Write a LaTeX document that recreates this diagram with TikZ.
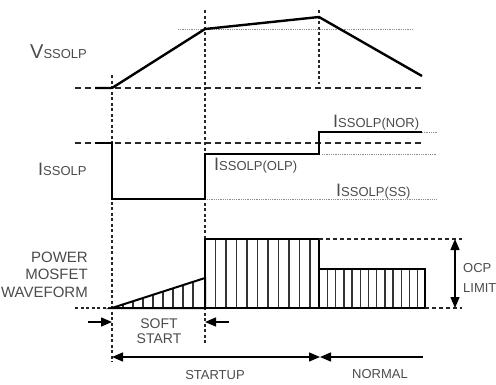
\documentclass[tikz,border=0pt]{standalone}
\usepackage{fontspec}
\setmainfont{Liberation Sans}
\usetikzlibrary{arrows.meta}
\definecolor{txt}{RGB}{75,75,75}
\newcommand{\BigLt}[1]{{\fontsize{20}{20}\selectfont #1}}
\newcommand{\SmLt}[1]{{\fontsize{13}{13}\selectfont #1}}
\begin{document}
\begin{tikzpicture}[x=1pt,y=-1pt,
  wave/.style={line width=2.4pt,black,line join=miter},
  vdash/.style={line width=1.2pt,black!85,dash pattern=on 3pt off 2.5pt},
  hdash/.style={line width=1.4pt,black!85,dash pattern=on 6pt off 4pt},
  fdot/.style={line width=0.8pt,black!45,dash pattern=on 1pt off 0.8pt},
  hatch/.style={line width=1.4pt,black!80},
  box/.style={line width=2pt,black,line join=miter},
  lbl/.style={inner sep=0pt,text=txt,font=\fontsize{14}{14}\selectfont},
  arr/.style={line width=1.4pt,black,-{Triangle[length=11pt,width=9pt]}},
  darr/.style={line width=1.4pt,black,{Triangle[length=11pt,width=9pt]}-{Triangle[length=11pt,width=9pt]}}]
\useasboundingbox (0,0) rectangle (496,384);
% time markers
\coordinate (t1a) at (112,75);  \coordinate (t1b) at (112,362);
\coordinate (t2a) at (205,10);  \coordinate (t2b) at (205,343);
\coordinate (t3a) at (319,10);  \coordinate (t3b) at (319,84);
\draw[vdash] (t1a) -- (t1b);
\draw[vdash] (t2a) -- (t2b);
\draw[vdash] (t3a) -- (t3b);
% ---- V panel ----
\coordinate (vl) at (75,88); \coordinate (vr) at (423,88);
\draw[hdash] (vl) -- (vr);
\coordinate (dl) at (178,29); \coordinate (dr) at (413,29);
\draw[fdot] (dl) -- (dr);
\coordinate (v0) at (95,88); \coordinate (v1) at (112,88);
\coordinate (v2) at (205,29); \coordinate (v3) at (319,17); \coordinate (v4) at (422,76);
\draw[wave] (v0) -- (v1) -- (v2) -- (v3) -- (v4);
\node[lbl,anchor=base west] (vlab) at (30,58) {\BigLt{V}\SmLt{SSOLP}};
% ---- I panel ----
\coordinate (il) at (75,143); \coordinate (ir) at (423,143);
\draw[hdash] (il) -- (ir);
\coordinate (n1) at (422,132); \coordinate (n2) at (437,132);
\draw[fdot] (n1) -- (n2);
\coordinate (o1) at (322,154); \coordinate (o2) at (437,154);
\draw[fdot] (o1) -- (o2);
\coordinate (s1) at (207,199); \coordinate (s2) at (437,199);
\draw[fdot] (s1) -- (s2);
\coordinate (i0) at (95,143); \coordinate (i1) at (112,143); \coordinate (i2) at (112,199);
\coordinate (i3) at (205,199); \coordinate (i4) at (205,154); \coordinate (i5) at (319,154);
\coordinate (i6) at (319,132); \coordinate (i7) at (422,132);
\draw[wave] (i0) -- (i1) -- (i2) -- (i3) -- (i4) -- (i5) -- (i6) -- (i7);
\node[lbl,anchor=base west] (ilab) at (38,175) {\fontsize{18}{18}\selectfont I\SmLt{SSOLP}};
\node[lbl,anchor=base west] (olab) at (214,170) {\fontsize{18}{18}\selectfont I\SmLt{SSOLP(OLP)}};
\node[lbl,anchor=base west] (nlab) at (333,127) {\fontsize{18}{18}\selectfont I\SmLt{SSOLP(NOR)}};
\node[lbl,anchor=base west] (sslab) at (336,196) {\fontsize{18}{18}\selectfont I\SmLt{SSOLP(SS)}};
% ---- Power MOSFET panel ----
\coordinate (pl) at (75,308);
\coordinate (r0) at (112,308); \coordinate (r1) at (205,278);
\coordinate (b0) at (205,308); \coordinate (b1) at (205,239);
\coordinate (b2) at (319,239); \coordinate (b3) at (319,269);
\coordinate (b4) at (425,269); \coordinate (b5) at (425,308);
\coordinate (b6) at (319,308);
\draw[vdash] (pl) -- (r0);
\foreach \x in {123,133,...,193}{
  \draw[hatch] (\x,308) -- (\x,{308-30*(\x-112)/93});
}
\foreach \k in {1,...,10}{
  \draw[hatch] ({205+10.5*\k},308) -- ({205+10.5*\k},239);
}
\foreach \k in {0,...,11}{
  \draw[hatch] ({327.5+8.2*\k},308) -- ({327.5+8.2*\k},269);
}
\draw[box] (r0) -- (r1) -- (b0) -- cycle;
\draw[box] (b0) -- (b1) -- (b2) -- (b3) -- (b4) -- (b5) -- cycle;
\draw[box] (b2) -- (b6);
\coordinate (ot1) at (462,239); \coordinate (ot2) at (462,308);
\draw[vdash,dash pattern=on 4pt off 3pt] (b2) -- (ot1);
\draw[vdash,dash pattern=on 4pt off 3pt] (b5) -- (ot2);
\coordinate (oa) at (455,239); \coordinate (ob) at (455,308);
\draw[darr] (oa) -- (ob);
\node[lbl,anchor=base west,font=\fontsize{13}{13}\selectfont] (ocp) at (463,272) {OCP};
\node[lbl,anchor=base west,font=\fontsize{13}{13}\selectfont] (lim) at (463,292) {LIMIT};
\node[lbl,anchor=base east,font=\fontsize{15}{15}\selectfont] (pw1) at (88,262) {POWER};
\node[lbl,anchor=base east,font=\fontsize{15}{15}\selectfont] (pw2) at (88,279.5) {MOSFET};
\node[lbl,anchor=base east,font=\fontsize{15}{15}\selectfont] (pw3) at (88,297) {WAVEFORM};
% soft start
\coordinate (sa0) at (88,322); \coordinate (sa1) at (112,322);
\coordinate (sb0) at (229,322); \coordinate (sb1) at (205,322);
\draw[arr] (sa0) -- (sa1);
\draw[arr] (sb0) -- (sb1);
\node[lbl,anchor=base] (soft) at (159,328) {SOFT};
\node[lbl,anchor=base] (start) at (159,343) {START};
% startup / normal
\coordinate (u0) at (112,357); \coordinate (u1) at (320,357); \coordinate (u2) at (423,357);
\draw[darr] (u0) -- (u1);
\draw[arr] (u2) -- (u1);
\node[lbl,anchor=base,font=\fontsize{13}{13}\selectfont] (stu) at (215,379) {STARTUP};
\node[lbl,anchor=base,font=\fontsize{13}{13}\selectfont] (nor) at (380,378) {NORMAL};
\end{tikzpicture}
\end{document}
